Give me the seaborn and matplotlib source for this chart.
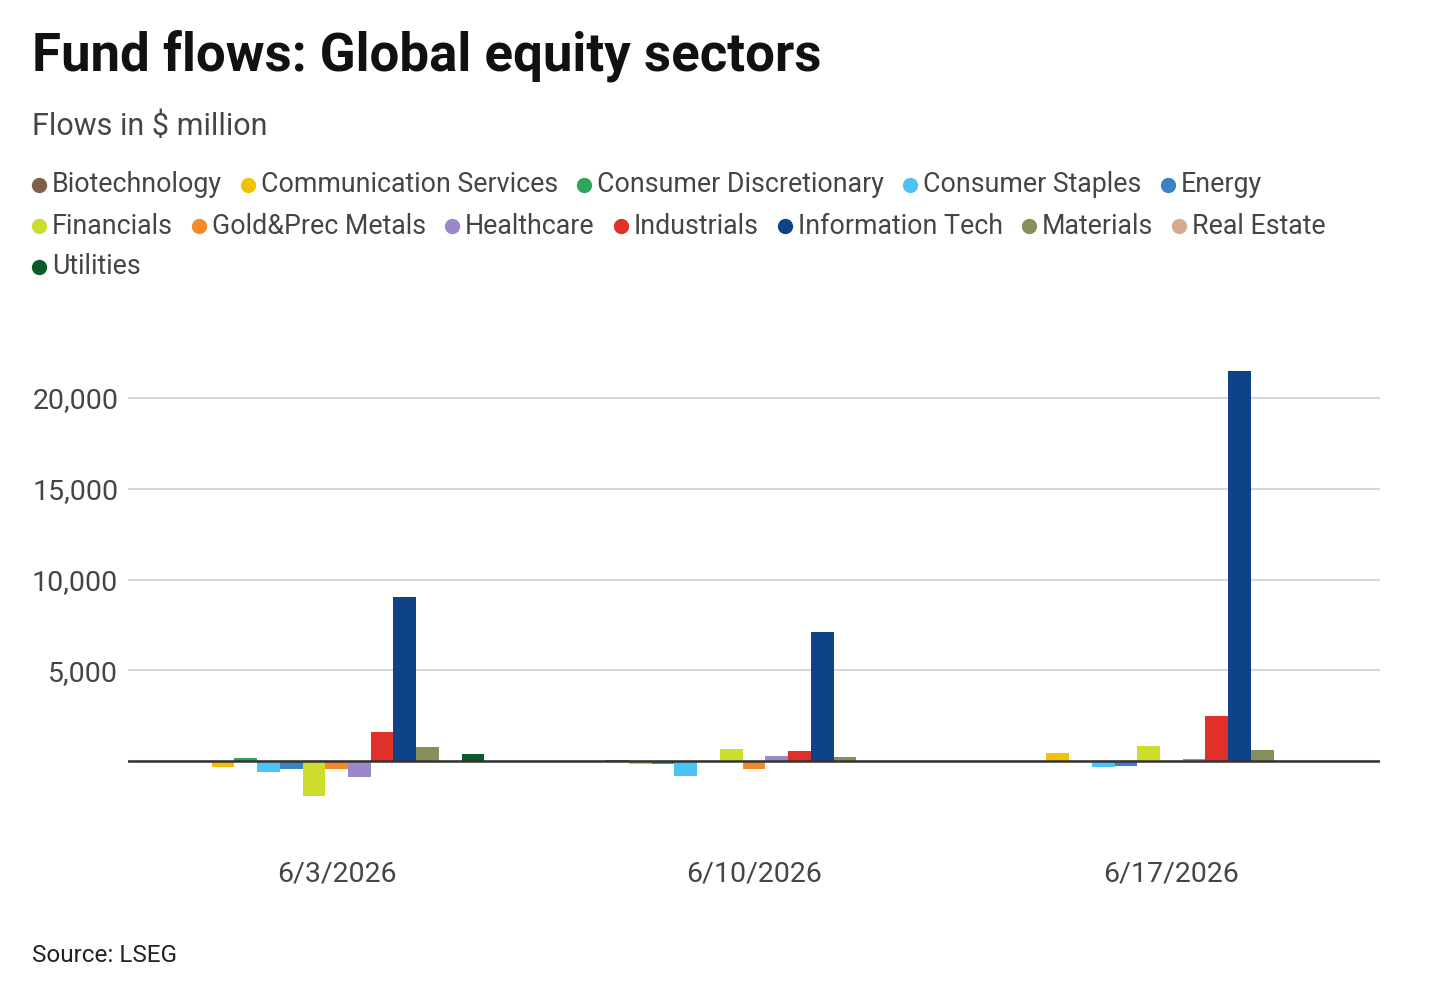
import matplotlib
matplotlib.use("Agg")
import matplotlib.pyplot as plt
from matplotlib.lines import Line2D
import seaborn as sns
import pandas as pd

dates = ["6/3/2026", "6/10/2026", "6/17/2026"]
sectors = ["Biotechnology", "Communication Services", "Consumer Discretionary",
           "Consumer Staples", "Energy", "Financials", "Gold&Prec Metals",
           "Healthcare", "Industrials", "Information Tech", "Materials",
           "Real Estate", "Utilities"]
flows_0603 = [-20, -310, 165, -590, -460, -1930, -460, -880, 1600, 9035, 755, -30, 385]
flows_0610 = [40, -180, -150, -830, -20, 645, -460, 275, 535, 7110, 220, 10, 10]
flows_0617 = [10, 440, -20, -330, -255, 845, -30, 90, 2480, 21490, 625, 10, 10]
colors = ["#7f5f4a", "#f2c200", "#2ea55a", "#4cc3f5", "#3a82c4", "#cddd2c",
          "#f58a2a", "#9b88c8", "#e03029", "#0e4387", "#86905a", "#d4aa90",
          "#0b5b2a"]

rows = []
for d, vals in zip(dates, [flows_0603, flows_0610, flows_0617]):
    for s, v in zip(sectors, vals):
        rows.append({"date": d, "sector": s, "flow": v})
df = pd.DataFrame(rows)

sns.set_theme(style="white")
plt.rcParams["font.family"] = ["Roboto", "DejaVu Sans"]

W, H = 1443, 1000
fig = plt.figure(figsize=(W / 100, H / 100), dpi=100)
ax = fig.add_axes([128 / W, 1 - 824.5 / H, (1380 - 128) / W, (824.5 - 334.5) / H])

sns.barplot(data=df, x="date", y="flow", hue="sector", order=dates,
            hue_order=sectors, palette=colors, width=0.708, saturation=1,
            dodge=True, ax=ax, legend=False, linewidth=0, errorbar=None)

ax.set_ylim(-3500, 23500)
ax.set_xlim(-0.5, 2.5)
ax.set_yticks([0, 5000, 10000, 15000, 20000])
ax.set_yticklabels(["", "5,000", "10,000", "15,000", "20,000"])
ax.yaxis.grid(True, color="#d6d6d6", linewidth=1.5)
ax.set_axisbelow(True)
ax.axhline(0, color="#333333", linewidth=1.8, zorder=5)
for sp in ax.spines.values():
    sp.set_visible(False)
ax.tick_params(axis="y", length=0, pad=7, labelsize=20.5, labelcolor="#454545")
ax.tick_params(axis="x", length=0, pad=26, labelsize=20.5, labelcolor="#454545")
ax.set_xlabel("")
ax.set_ylabel("")

# Titles
fig.text(32 / W, 1 - 70 / H, "Fund flows: Global equity sectors", fontsize=38,
         fontweight="bold", color="#111111", va="baseline", ha="left")
fig.text(32 / W, 1 - 135 / H, "Flows in $ million", fontsize=22,
         color="#454545", va="baseline", ha="left")
fig.text(32 / W, 1 - 962 / H, "Source: LSEG", fontsize=17.5,
         color="#222222", va="baseline", ha="left")

# Flow legend
fig.canvas.draw()
renderer = fig.canvas.get_renderer()
x0, xmax = 39, 1380
x = x0
y = 185
for s, c in zip(sectors, colors):
    t = fig.text(0, 0, s, fontsize=19.3, color="#454545",
                 va="center", ha="left")
    w = t.get_window_extent(renderer).width
    if x + 13 + w > xmax and x != x0:
        x = x0
        y += 41
    t.set_position(((x + 13) / W, 1 - y / H))
    fig.add_artist(Line2D([x / W], [1 - y / H], marker="o", markersize=10,
                          color=c, linestyle="none", transform=fig.transFigure))
    x = x + 13 + w + 26

fig.savefig("out.png", dpi=100, facecolor="white")
